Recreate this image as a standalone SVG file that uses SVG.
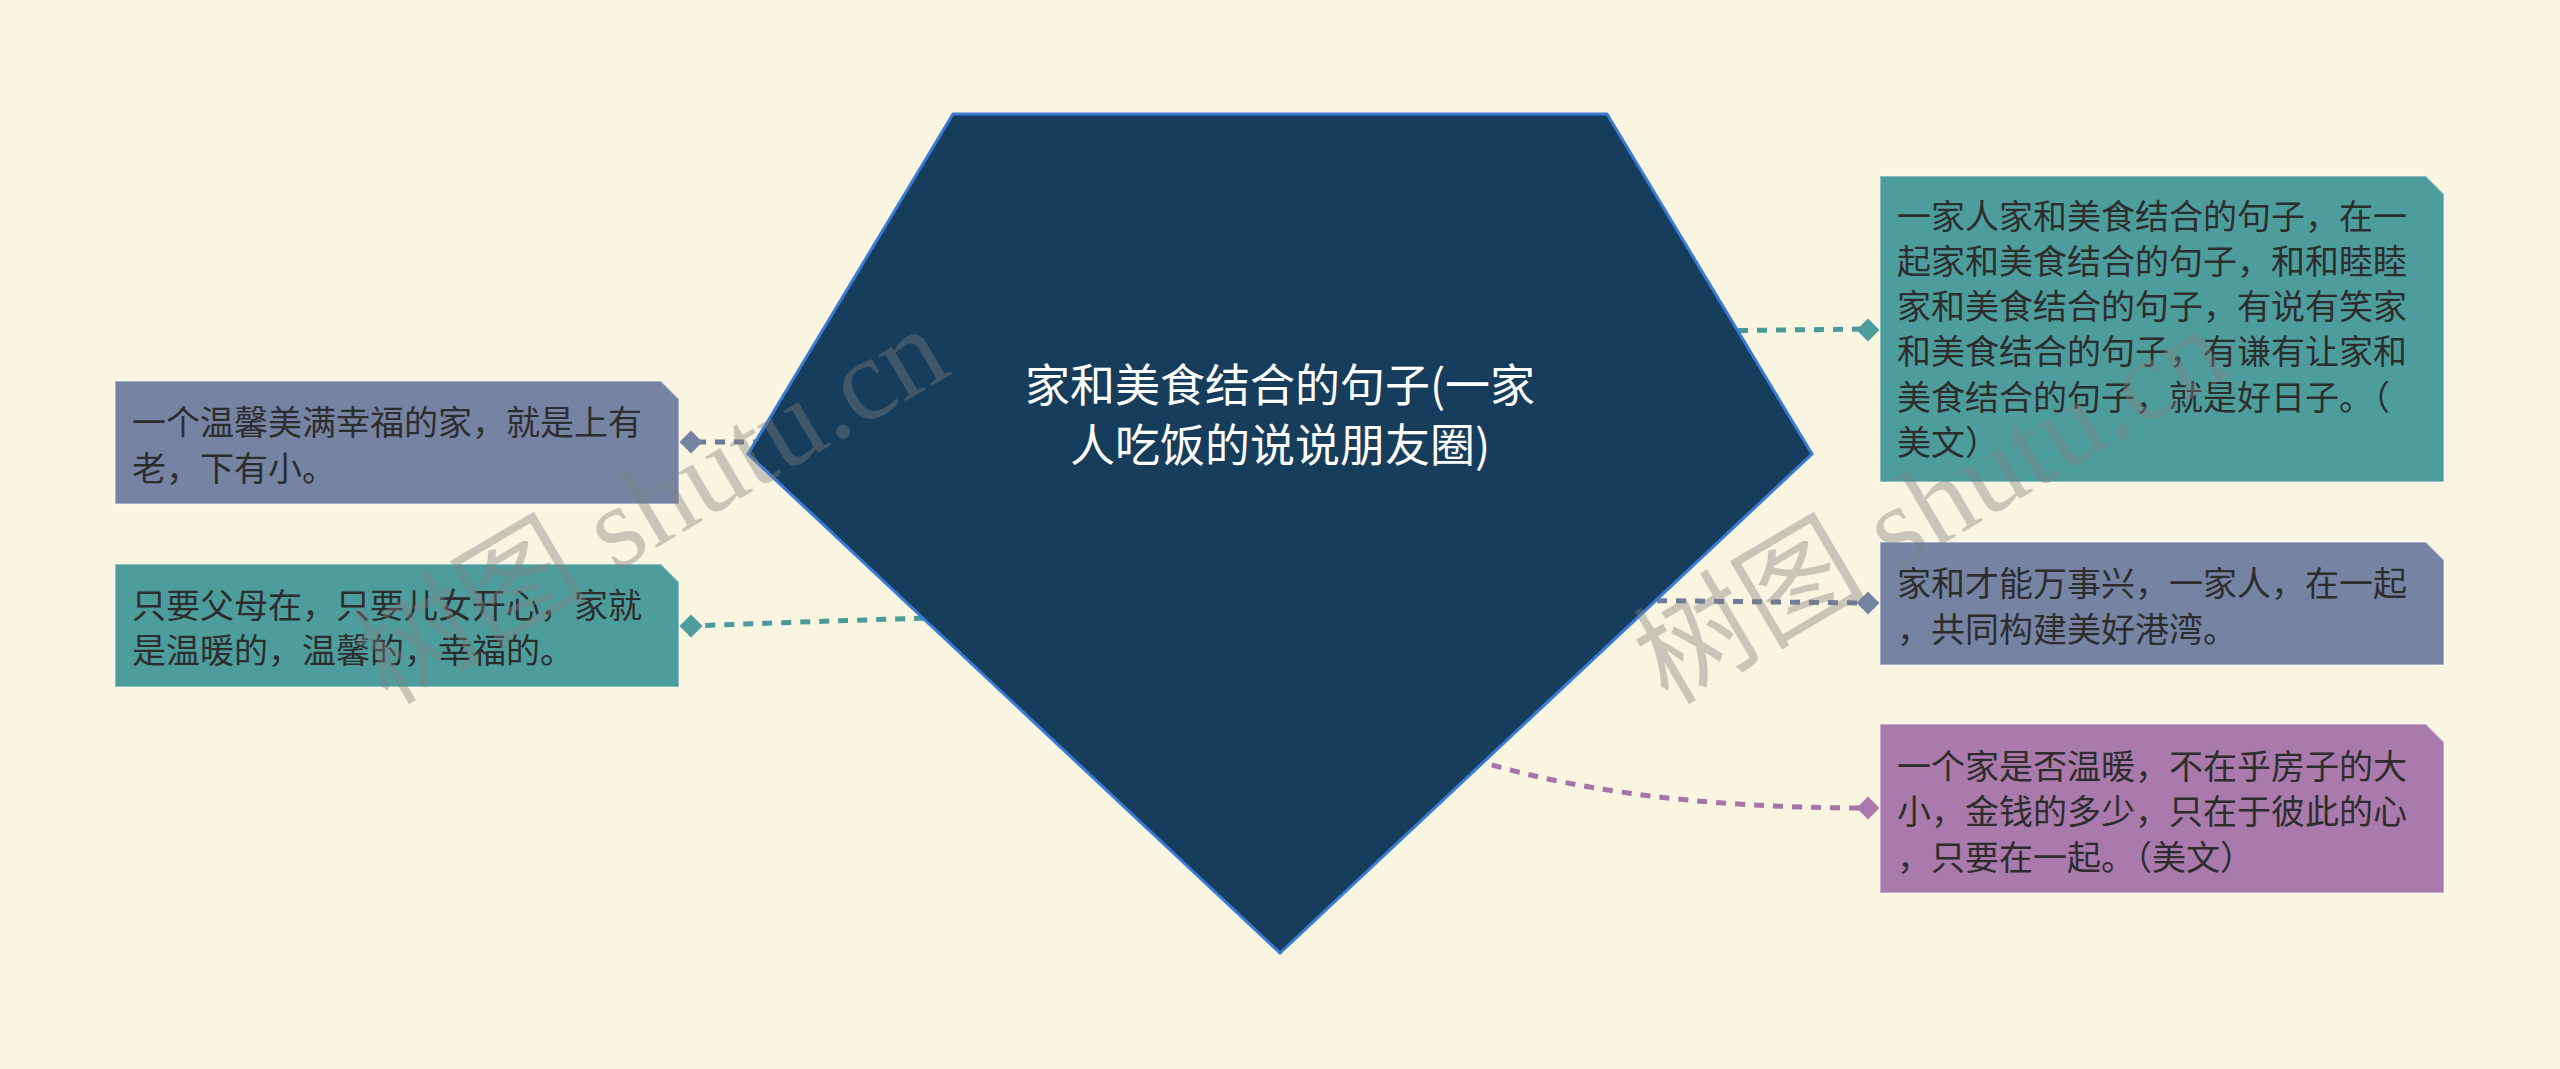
<svg xmlns="http://www.w3.org/2000/svg" width="2560" height="1069" viewBox="0 0 2560 1069">
<style>
.t{font-family:"Noto Sans CJK SC","Noto Sans",sans-serif;font-size:34px;fill:#2d2d2d}
.title{font-family:"Noto Sans CJK SC","Noto Sans",sans-serif;font-size:45px;fill:#ffffff;text-anchor:middle}
.box{stroke:#ffffff;stroke-opacity:0.35;stroke-width:2}
.c{fill:none;stroke-width:5;stroke-dasharray:10 9}
.wm{font-family:"Liberation Serif","Noto Sans CJK SC",serif;font-size:117px;fill:#808080;fill-opacity:0.4}
</style>
<rect x="0" y="0" width="2560" height="1069" fill="#FAF5E0"/>
<g id="connectors">
<path class="c" stroke="#6F7B9B" d="M820 442 L691 442"/>
<path class="c" stroke="#4A9A9A" d="M1000 616 Q850 620 691 626"/>
<path class="c" stroke="#4A9A9A" d="M1700 331 L1868 329"/>
<path class="c" stroke="#6F7B9B" d="M1600 600 L1868 603"/>
<path class="c" stroke="#A574A8" d="M1420 740 C1540 790 1700 808 1868 808"/>
<path fill="#7683A3" d="M691 430.5 L702.5 442 L691 453.5 L679.5 442 Z"/>
<path fill="#4D9D9D" d="M691 614.5 L702.5 626 L691 637.5 L679.5 626 Z"/>
<path fill="#4D9D9D" d="M1868 318.5 L1879.5 330 L1868 341.5 L1856.5 330 Z"/>
<path fill="#7683A3" d="M1868 591.5 L1879.5 603 L1868 614.5 L1856.5 603 Z"/>
<path fill="#A97AAB" d="M1868 796.5 L1879.5 808 L1868 819.5 L1856.5 808 Z"/>
</g>
<g id="root">
<polygon points="953,114 1607,114 1812,454 1280,953 748,454" fill="#173D5C" stroke="#3A7BD5" stroke-width="3"/>
<text class="title" x="1280" y="402">家和美食结合的句子(一家</text>
<text class="title" x="1280" y="462">人吃饭的说说朋友圈)</text>
</g>
<g id="node-l1">
<path class="box" fill="#7683A3" d="M115 381 H661 L679 399 V504 H115 Z"/>
<text class="t" x="132" y="435">一个温馨美满幸福的家，就是上有</text>
<text class="t" x="132" y="481">老，下有小。</text>
</g>
<g id="node-l2">
<path class="box" fill="#4D9D9D" d="M115 564 H661 L679 582 V687 H115 Z"/>
<text class="t" x="132" y="618">只要父母在，只要儿女开心，家就</text>
<text class="t" x="132" y="663">是温暖的，温馨的，幸福的。</text>
</g>
<g id="node-r1">
<path class="box" fill="#4D9D9D" d="M1880 176 H2426 L2444 194 V482 H1880 Z"/>
<text class="t" x="1897" y="229">一家人家和美食结合的句子，在一</text>
<text class="t" x="1897" y="274">起家和美食结合的句子，和和睦睦</text>
<text class="t" x="1897" y="319">家和美食结合的句子，有说有笑家</text>
<text class="t" x="1897" y="364">和美食结合的句子，有谦有让家和</text>
<text class="t" x="1897" y="410">美食结合的句子，就是好日子。（</text>
<text class="t" x="1897" y="455">美文）</text>
</g>
<g id="node-r2">
<path class="box" fill="#7683A3" d="M1880 542 H2426 L2444 560 V665 H1880 Z"/>
<text class="t" x="1897" y="596">家和才能万事兴，一家人，在一起</text>
<text class="t" x="1897" y="642">，共同构建美好港湾。</text>
</g>
<g id="node-r3">
<path class="box" fill="#A97AAB" d="M1880 724 H2426 L2444 742 V893 H1880 Z"/>
<text class="t" x="1897" y="779">一个家是否温暖，不在乎房子的大</text>
<text class="t" x="1897" y="824">小，金钱的多少，只在于彼此的心</text>
<text class="t" x="1897" y="870">，只要在一起。（美文）</text>
</g>
<g id="watermark">
<text class="wm" transform="translate(388 706) rotate(-30.5)">树图 shutu.cn</text>
<text class="wm" transform="translate(1668 706) rotate(-30.5)">树图 shutu.cn</text>
</g>
</svg>
